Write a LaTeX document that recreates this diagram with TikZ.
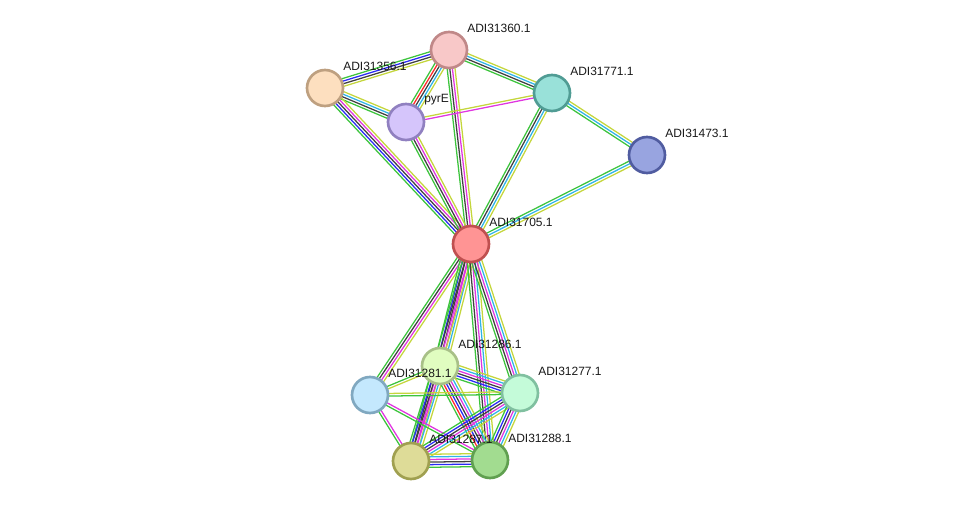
\documentclass[tikz,border=0pt]{standalone}
\usepackage{fontspec}
\setmainfont{Liberation Sans}
\usepackage{xcolor}
\usetikzlibrary{calc,backgrounds}

% evidence colours
\definecolor{nbhd}{HTML}{3DC43D}
\definecolor{fuse}{HTML}{FF2A2A}
\definecolor{cooc}{HTML}{2A2AF5}
\definecolor{coexp}{HTML}{404040}
\definecolor{expt}{HTML}{E035E0}
\definecolor{dbase}{HTML}{30B4E8}
\definecolor{tmine}{HTML}{C4D63C}

% one edge = several parallel lines, one per evidence colour
\newcommand{\ppilink}[3]{%
  \gdef\nlines{0}%
  \foreach \col in {#3} {\pgfmathtruncatemacro\cnt{\nlines+1}\xdef\nlines{\cnt}}%
  \foreach \col [count=\i] in {#3} {%
    \pgfmathsetmacro\off{(\i-(\nlines+1)/2)*1.95}%
    \draw[\col, line width=0.95pt] ($(#1)!\off pt!90:(#2)$) -- ($(#2)!\off pt!-90:(#1)$);
  }%
}

\tikzset{
  prot/.style={circle, minimum size=27pt, inner sep=0pt, line width=2pt},
  lbl/.style={anchor=west, inner sep=0pt, text=black!90, font=\fontsize{9}{11}\selectfont}
}

\begin{document}
\begin{tikzpicture}[x=0.75pt, y=-0.75pt]
  \useasboundingbox (0,0) rectangle (976,506);
  % Proteins
  \node[prot, fill={rgb,255:red,248;green,200;blue,200}, draw={rgb,255:red,192;green,136;blue,136}] (n360) at (449,50) {};
  \node[prot, fill={rgb,255:red,253;green,223;blue,191}, draw={rgb,255:red,190;green,160;blue,128}] (n356) at (325,88) {};
  \node[prot, fill={rgb,255:red,213;green,197;blue,251}, draw={rgb,255:red,144;green,128;blue,192}] (pyrE) at (406,122) {};
  \node[prot, fill={rgb,255:red,153;green,225;blue,217}, draw={rgb,255:red,80;green,156;blue,148}] (n771) at (552,93) {};
  \node[prot, fill={rgb,255:red,152;green,164;blue,224}, draw={rgb,255:red,80;green,92;blue,160}] (n473) at (647,155) {};
  \node[prot, fill={rgb,255:red,255;green,148;blue,148}, draw={rgb,255:red,192;green,80;blue,80}] (n705) at (471,244) {};
  \node[prot, fill={rgb,255:red,224;green,253;blue,192}, draw={rgb,255:red,168;green,192;blue,136}] (n286) at (440,366) {};
  \node[prot, fill={rgb,255:red,196;green,232;blue,253}, draw={rgb,255:red,128;green,168;blue,192}] (n281) at (370,395) {};
  \node[prot, fill={rgb,255:red,196;green,251;blue,217}, draw={rgb,255:red,128;green,192;blue,160}] (n277) at (520,393) {};
  \node[prot, fill={rgb,255:red,222;green,220;blue,152}, draw={rgb,255:red,160;green,160;blue,80}] (n287) at (411,461) {};
  \node[prot, fill={rgb,255:red,162;green,220;blue,144}, draw={rgb,255:red,96;green,160;blue,80}] (n288) at (490,460) {};
  % Labels
  \node[lbl] (t360) at ($(n360)+(18,-22)$) {ADI31360.1};
  \node[lbl] (t356) at ($(n356)+(18,-22)$) {ADI31356.1};
  \node[lbl] (tpyr) at ($(pyrE)+(18,-22)$) {pyrE};
  \node[lbl] (t771) at ($(n771)+(18,-22)$) {ADI31771.1};
  \node[lbl] (t473) at ($(n473)+(18,-22)$) {ADI31473.1};
  \node[lbl] (t705) at ($(n705)+(18,-22)$) {ADI31705.1};
  \node[lbl] (t286) at ($(n286)+(18,-22)$) {ADI31286.1};
  \node[lbl] (t281) at ($(n281)+(18,-22)$) {ADI31281.1};
  \node[lbl] (t277) at ($(n277)+(18,-22)$) {ADI31277.1};
  \node[lbl] (t287) at ($(n287)+(18,-22)$) {ADI31287.1};
  \node[lbl] (t288) at ($(n288)+(18,-22)$) {ADI31288.1};
  % Edges
  \begin{pgfonlayer}{background}
    \ppilink{n360}{n356}{nbhd,cooc,coexp,tmine}
    \ppilink{n360}{pyrE}{nbhd,fuse,coexp,dbase,tmine}
    \ppilink{n360}{n771}{nbhd,coexp,dbase,tmine}
    \ppilink{n360}{n705}{nbhd,coexp,expt,tmine}
    \ppilink{n356}{pyrE}{nbhd,coexp,dbase,tmine}
    \ppilink{n356}{n705}{nbhd,cooc,coexp,expt,tmine}
    \ppilink{pyrE}{n771}{expt,tmine}
    \ppilink{pyrE}{n705}{nbhd,coexp,expt,tmine}
    \ppilink{n771}{n705}{nbhd,coexp,dbase,tmine}
    \ppilink{n771}{n473}{nbhd,dbase,tmine}
    \ppilink{n473}{n705}{nbhd,dbase,tmine}
    \ppilink{n705}{n281}{nbhd,coexp,expt,tmine}
    \ppilink{n705}{n286}{nbhd,cooc,coexp,expt,dbase,tmine}
    \ppilink{n705}{n287}{nbhd,coexp,expt,tmine}
    \ppilink{n705}{n288}{nbhd,coexp,expt,dbase,tmine}
    \ppilink{n705}{n277}{nbhd,coexp,expt,dbase,tmine}
    \ppilink{n286}{n281}{nbhd,tmine}
    \ppilink{n286}{n277}{nbhd,cooc,coexp,expt,dbase,tmine}
    \ppilink{n286}{n287}{nbhd,cooc,coexp,expt,dbase,tmine}
    \ppilink{n286}{n288}{nbhd,fuse,cooc,coexp,expt,dbase,tmine}
    \ppilink{n281}{n277}{nbhd,tmine}
    \ppilink{n281}{n287}{nbhd,expt}
    \ppilink{n281}{n288}{nbhd,expt}
    \ppilink{n277}{n287}{nbhd,cooc,coexp,expt,dbase,tmine}
    \ppilink{n277}{n288}{nbhd,cooc,coexp,expt,dbase,tmine}
    \ppilink{n287}{n288}{nbhd,cooc,coexp,expt,dbase,tmine}
  \end{pgfonlayer}
\end{tikzpicture}
\end{document}
